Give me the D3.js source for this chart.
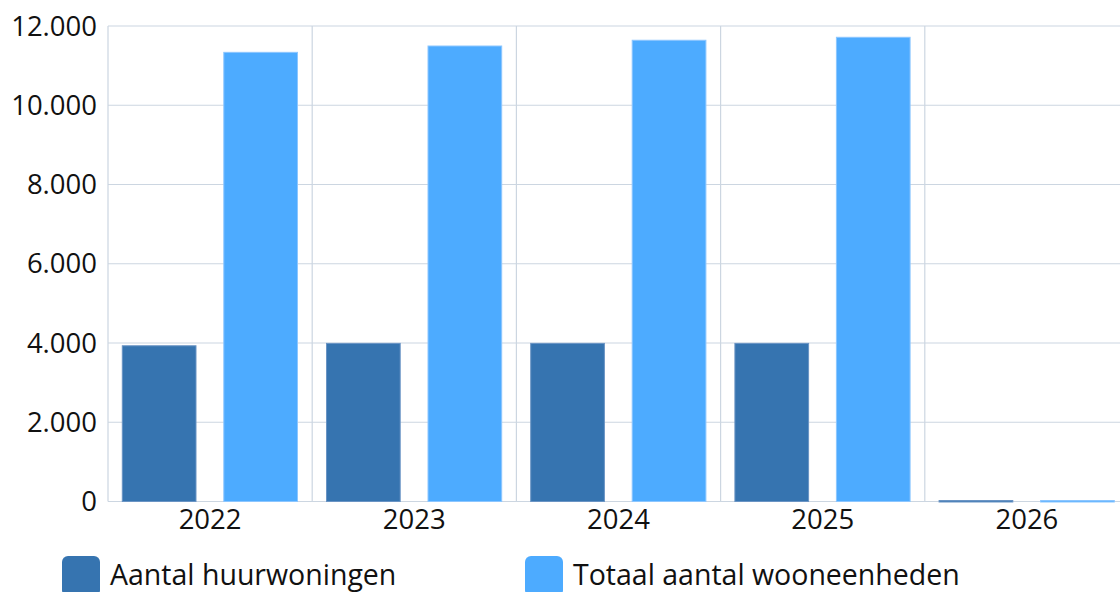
<!DOCTYPE html>
<html><head><meta charset="utf-8">
<script src="https://cdn.jsdelivr.net/npm/d3@7"></script>
<style>body{margin:0;background:#fff;overflow:hidden}svg{display:block}text{font-family:"Open Sans","Noto Sans",sans-serif;fill:#111}</style>
</head><body>
<svg id="c" width="1120" height="592"></svg>
<script>
const categories = ["2022","2023","2024","2025","2026"];
const seriesNames = ["Aantal huurwoningen","Totaal aantal wooneenheden"];
const huur = [3930, 3990, 3990, 3990, 25];
const totaal = [11335, 11495, 11640, 11715, 25];
const yTicks = [0,2000,4000,6000,8000,10000,12000];
const colors = ["#3674b0","#4dabff"];
const strokes = ["#6a94c4","#8cc6ff"];

const svg = d3.select("#c");
const m = {left:108, top:26, right:1129, bottom:501.5};
const x = d3.scaleBand().domain(categories).range([m.left, m.right]);
const y = d3.scaleLinear().domain([0,12000]).range([m.bottom, m.top]);
const fmt = v => d3.format(",")(v).replace(/,/g,".");
const FF = '"Open Sans","Noto Sans",sans-serif';

// grid
svg.append("g").selectAll("line").data(yTicks).join("line")
  .attr("x1", m.left).attr("x2", m.right)
  .attr("y1", d=>y(d)).attr("y2", d=>y(d))
  .attr("stroke","#ccd6e1").attr("stroke-width",1.2);
svg.append("g").selectAll("line").data(categories).join("line")
  .attr("x1", d=>x(d)).attr("x2", d=>x(d))
  .attr("y1", m.top).attr("y2", m.bottom)
  .attr("stroke","#ccd6e1").attr("stroke-width",1.2);

// y labels
const yAxis = d3.axisLeft(y).tickValues(yTicks).tickFormat(fmt).tickSize(0).tickPadding(11);
const ya = svg.append("g").attr("transform",`translate(${m.left},0)`).call(yAxis);
ya.select(".domain").remove();
ya.selectAll("text").attr("font-size",27.5).attr("fill","#111").attr("dy","0.33em")
  .style("font-family",FF);

// x labels
const xAxis = d3.axisBottom(x).tickSize(0).tickPadding(8);
const xa = svg.append("g").attr("transform",`translate(0,${m.bottom})`).call(xAxis);
xa.select(".domain").remove();
xa.selectAll("text").attr("font-size",27.5).attr("fill","#111")
  .style("font-family",FF);

// bars
const inner = d3.scaleBand().domain([0,1]).range([14.3, x.bandwidth()-14.7]).paddingInner(0.274);
[huur, totaal].forEach((vals, si) => {
  svg.append("g").selectAll("rect").data(vals).join("rect")
    .attr("x", (d,i)=>x(categories[i]) + inner(si))
    .attr("width", inner.bandwidth())
    .attr("y", d=>y(d))
    .attr("height", d=>Math.max(1.5, y(0)-y(d)))
    .attr("fill", colors[si])
    .attr("stroke", strokes[si]).attr("stroke-width",1);
});

// legend
const legX = [62, 525];
const lg = svg.append("g");
seriesNames.forEach((n,i)=>{
  lg.append("rect").attr("x",legX[i]).attr("y",556).attr("width",38).attr("height",40)
    .attr("rx",6).attr("fill",colors[i]);
  lg.append("text").attr("x",legX[i]+48).attr("y",585).attr("font-size",28.5).text(n);
});
</script>
</body></html>
